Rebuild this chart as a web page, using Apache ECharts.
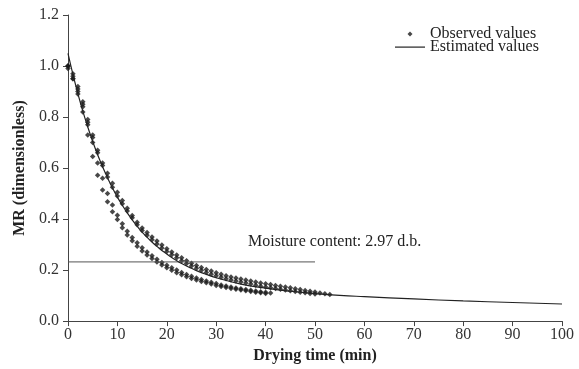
<!DOCTYPE html>
<html>
<head>
<meta charset="utf-8">
<script src="https://cdn.jsdelivr.net/npm/echarts@6/dist/echarts.min.js"></script>
<style>
  html, body { margin: 0; padding: 0; background: #fff; }
  #chart { width: 579px; height: 369px; }
</style>
</head>
<body>
<div id="chart"></div>
<script>
// Observed MR, one value per minute (index = drying time in min)
const obsA = [1.00, 0.97, 0.92, 0.86, 0.79, 0.73, 0.67, 0.62, 0.58, 0.54,
  0.505, 0.473, 0.442, 0.414, 0.388, 0.365, 0.347, 0.330, 0.314, 0.298,
  0.284, 0.271, 0.259, 0.248, 0.237, 0.227, 0.218, 0.210, 0.202, 0.196,
  0.190, 0.184, 0.178, 0.173, 0.169, 0.165, 0.161, 0.157, 0.153, 0.149,
  0.146, 0.143, 0.140, 0.137, 0.134, 0.131, 0.127, 0.124, 0.120, 0.117,
  0.114, 0.110, 0.107, 0.104];
const obsB = [0.99, 0.96, 0.91, 0.85, 0.78, 0.72, 0.66, 0.61, 0.565, 0.525,
  0.490, 0.460, 0.432, 0.405, 0.378, 0.355, 0.337, 0.319, 0.302, 0.287,
  0.273, 0.260, 0.248, 0.237, 0.226, 0.216, 0.207, 0.199, 0.191, 0.184,
  0.178, 0.172, 0.166, 0.161, 0.157, 0.153, 0.149, 0.145, 0.141, 0.137,
  0.134, 0.131, 0.128, 0.125, 0.122, 0.119, 0.116, 0.113, 0.111, 0.108,
  0.106];
const obsC = [1.00, 0.95, 0.90, 0.84, 0.77, 0.70, 0.62, 0.56, 0.50, 0.455,
  0.415, 0.382, 0.352, 0.328, 0.307, 0.288, 0.271, 0.256, 0.242, 0.230,
  0.219, 0.209, 0.200, 0.191, 0.183, 0.176, 0.169, 0.163, 0.157, 0.152,
  0.147, 0.142, 0.138, 0.134, 0.130, 0.127, 0.124, 0.121, 0.118, 0.115,
  0.113, 0.110];
const obsD = [1.00, 0.95, 0.89, 0.82, 0.73, 0.645, 0.572, 0.514, 0.468, 0.429,
  0.398, 0.366, 0.338, 0.315, 0.293, 0.275, 0.259, 0.245, 0.232, 0.220,
  0.209, 0.199, 0.190, 0.182, 0.174, 0.167, 0.161, 0.155, 0.150, 0.145,
  0.140, 0.136, 0.132, 0.128, 0.125, 0.122, 0.119, 0.116, 0.113, 0.111,
  0.108];

// Estimated curve
const estTime = [0, 1, 2, 3, 4, 5, 6, 7, 8, 9, 10, 11, 12, 13, 14, 15, 16, 17, 18, 19,
  20, 21, 22, 23, 24, 25, 26, 27, 28, 29, 30, 35, 40, 45, 50, 55, 60, 70, 80, 90, 100];
const estMR = [1.050, 0.967, 0.892, 0.823, 0.761, 0.704, 0.652, 0.605, 0.562, 0.522,
  0.486, 0.454, 0.424, 0.397, 0.372, 0.349, 0.329, 0.310, 0.293, 0.277,
  0.263, 0.249, 0.237, 0.226, 0.216, 0.207, 0.198, 0.190, 0.183, 0.176,
  0.170, 0.145, 0.129, 0.117, 0.108, 0.101, 0.096, 0.087, 0.079, 0.073, 0.067];

// Moisture content reference line
const mcLevel = 0.232;
const mcRange = [0, 50];
const mcLabel = 'Moisture content: 2.97 d.b.';

const FONT = 'Liberation Serif';
const INK = '#222';

const chart = echarts.init(document.getElementById('chart'));

function scatter(vals) {
  return {
    name: 'Observed values', type: 'scatter',
    symbol: 'diamond', symbolSize: 5.5,
    itemStyle: { color: '#1a1a1a' },
    silent: true,
    data: vals.map((v, i) => [i, v]),
  };
}

chart.setOption({
  animation: false,
  backgroundColor: '#fff',
  textStyle: { fontFamily: FONT },
  grid: { left: 68, right: 17, top: 15, bottom: 46 },
  legend: {
    orient: 'vertical', left: 395, top: 26, padding: 0,
    itemWidth: 30, itemHeight: 14, itemGap: -3,
    textStyle: { fontFamily: FONT, fontSize: 16, color: INK },
    data: [
      { name: 'Observed values', icon: 'path://M0 0M30 14M15 4.5L17.5 7L15 9.5L12.5 7Z' },
      { name: 'Estimated values', icon: 'path://M0 0M30 14M0 6.5L30 6.5L30 7.7L0 7.7Z',
        itemStyle: { color: '#222' } },
    ],
  },
  xAxis: {
    type: 'value', min: 0, max: 100, interval: 10,
    name: 'Drying time (min)', nameLocation: 'middle', nameGap: 25,
    nameTextStyle: { fontFamily: FONT, fontSize: 16, fontWeight: 'bold', color: INK },
    axisLine: { lineStyle: { color: '#444' } },
    axisTick: { length: 5, lineStyle: { color: '#444' } },
    axisLabel: { fontFamily: FONT, fontSize: 16, color: '#333', margin: 6 },
    splitLine: { show: false },
  },
  yAxis: {
    type: 'value', min: 0, max: 1.2, interval: 0.2,
    name: 'MR (dimensionless)', nameLocation: 'middle', nameGap: 37,
    nameTextStyle: { fontFamily: FONT, fontSize: 16, fontWeight: 'bold', color: INK },
    axisLine: { show: true, lineStyle: { color: '#444' } },
    axisTick: { show: true, length: 5, lineStyle: { color: '#444' } },
    axisLabel: { fontFamily: FONT, fontSize: 16, color: '#333', margin: 9,
      formatter: (v) => v.toFixed(1) },
    splitLine: { show: false },
  },
  graphic: [{
    type: 'text', left: 248, top: 234,
    style: { text: mcLabel, font: '16px "Liberation Serif"', fill: INK },
  }],
  series: [
    {
      name: 'moisture', type: 'line', symbol: 'none', silent: true,
      lineStyle: { color: '#555', width: 1 },
      data: mcRange.map(t => [t, mcLevel]),
    },
    scatter(obsD),
    scatter(obsC),
    scatter(obsB),
    scatter(obsA),
    {
      name: 'Estimated values', type: 'line', symbol: 'none', smooth: true,
      lineStyle: { color: '#222', width: 1.2 },
      itemStyle: { color: '#222' },
      data: estTime.map((t, i) => [t, estMR[i]]),
    },
  ],
});
</script>
</body>
</html>
